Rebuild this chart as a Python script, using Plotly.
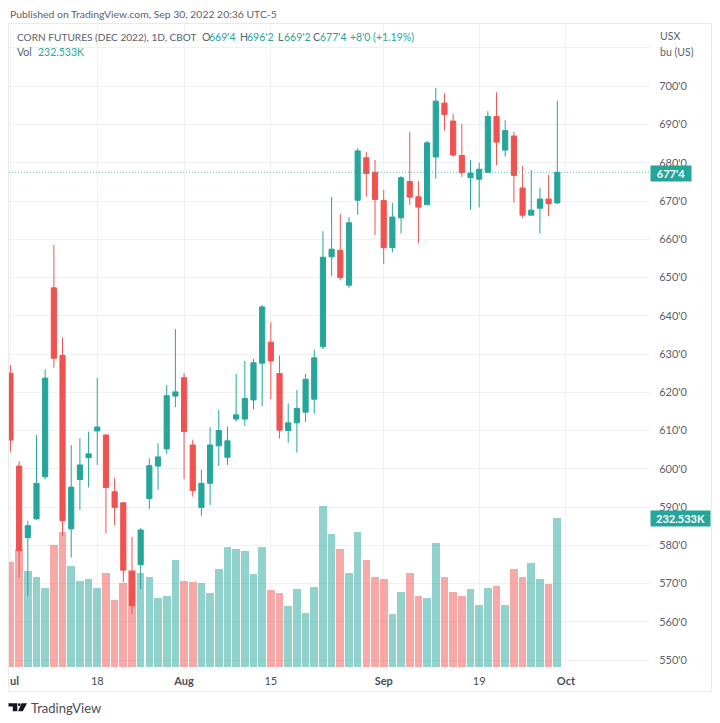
import pandas as pd
import plotly.graph_objects as go

W, H = 720, 723
FONT = "Lato"
GREEN = "#26a69a"
RED = "#ef5350"
TEXT = "#5d606b"

# open, high, low, close, volume (K) per session, Jul 1 to Sep 30 2022
rows = [
    (625.0, 627.1, 604.5, 607.5, 164.6), (600.7, 602.0, 571.5, 578.6, 184.8),
    (582.0, 586.4, 566.8, 585.1, 150.6), (586.9, 608.8, 586.7, 596.2, 141.3),
    (597.9, 626.0, 597.3, 623.7, 123.2), (647.3, 658.5, 626.4, 628.9, 191.0),
    (629.6, 634.3, 582.5, 586.4, 211.2), (584.3, 606.2, 576.8, 595.2, 156.9),
    (597.2, 608.0, 589.2, 601.0, 133.6), (602.9, 609.7, 595.1, 603.9, 138.2),
    (609.9, 623.8, 601.0, 610.9, 124.2), (608.8, 609.1, 583.1, 595.1, 146.0),
    (594.0, 597.6, 585.3, 589.9, 104.5), (591.1, 591.3, 570.4, 573.5, 132.0),
    (573.1, 582.2, 562.0, 564.2, 152.2), (574.9, 584.5, 568.6, 584.0, 146.0),
    (592.2, 602.7, 589.5, 600.8, 140.2), (600.7, 606.7, 594.5, 603.1, 107.2),
    (605.2, 621.9, 603.9, 619.1, 110.7), (619.0, 636.5, 616.1, 620.1, 166.2),
    (623.8, 625.0, 597.3, 609.7, 134.0), (606.2, 607.6, 592.7, 594.3, 132.8),
    (589.9, 599.7, 587.7, 596.2, 132.0), (596.2, 610.9, 590.5, 606.2, 116.0),
    (606.0, 615.4, 600.7, 610.0, 152.7), (603.0, 611.0, 601.0, 607.3, 187.9),
    (613.0, 624.8, 612.3, 614.1, 183.3), (613.0, 628.2, 611.2, 618.4, 181.7),
    (618.0, 628.7, 615.5, 627.7, 145.5), (627.6, 642.8, 616.4, 642.3, 187.9),
    (633.1, 638.3, 618.2, 628.2, 120.7), (624.9, 629.6, 607.9, 610.1, 116.0),
    (610.0, 617.1, 606.8, 612.0, 95.2), (612.0, 620.6, 604.2, 615.8, 122.2),
    (614.8, 624.8, 612.2, 623.4, 84.3), (618.2, 631.1, 614.4, 629.0, 125.8),
    (631.9, 662.1, 631.3, 655.3, 250.5), (655.4, 671.1, 650.4, 657.4, 207.6),
    (657.1, 666.6, 649.4, 650.0, 183.3), (648.0, 665.8, 647.3, 664.3, 146.4),
    (670.2, 683.8, 666.4, 683.1, 209.7), (681.3, 682.8, 671.1, 677.2, 167.3),
    (677.5, 680.7, 661.1, 670.4, 140.9), (670.1, 672.9, 653.5, 657.8, 138.2),
    (657.8, 669.5, 656.6, 665.8, 82.8), (665.6, 676.5, 661.5, 676.1, 116.9),
    (675.1, 688.1, 669.0, 671.0, 146.4), (671.1, 675.2, 659.0, 668.4, 111.4),
    (669.0, 685.7, 669.0, 685.2, 108.7), (681.5, 699.5, 675.8, 696.1, 193.0),
    (695.6, 698.2, 688.4, 692.6, 141.3), (690.9, 692.8, 681.6, 682.0, 116.9),
    (681.9, 690.1, 676.3, 677.4, 111.8), (676.1, 680.7, 667.7, 677.3, 122.2),
    (675.7, 680.0, 668.3, 678.3, 97.8), (677.5, 693.5, 677.5, 692.1, 123.2),
    (692.1, 698.4, 679.4, 685.4, 126.9), (683.3, 691.1, 681.6, 688.4, 97.8),
    (687.0, 688.1, 669.6, 676.7, 153.7), (673.4, 679.2, 665.6, 666.3, 140.2),
    (666.3, 678.1, 666.3, 667.6, 162.6), (668.1, 673.4, 661.5, 670.5, 137.8),
    (670.5, 676.9, 666.1, 669.3, 129.4), (669.5, 696.25, 669.25, 677.5, 232.533),
]
df = pd.DataFrame(rows, columns=["open", "high", "low", "close", "volume"])
df["n"] = range(len(df))


def px(x):
    return x / W


def py(y):
    return 1 - y / H


def label(x, y, text, color=TEXT, size=10.5, xanchor="left", **kw):
    return dict(xref="paper", yref="paper", x=px(x), y=py(y), text=text, showarrow=False,
                xanchor=xanchor, yanchor="middle", font=dict(family=FONT, size=size, color=color),
                borderpad=0, **kw)


vol_colors = [RED if c < o else GREEN for o, c in zip(df["open"], df["close"])]

fig = go.Figure()
fig.add_trace(go.Bar(x=df["n"], y=df["volume"], width=0.88, marker_color=vol_colors, marker_opacity=0.5,
                     marker_line_width=0, yaxis="y", hoverinfo="skip"))
fig.add_trace(go.Candlestick(
    x=df["n"], open=df["open"], high=df["high"], low=df["low"], close=df["close"], yaxis="y2",
    whiskerwidth=0,
    increasing=dict(line=dict(color=GREEN, width=1), fillcolor=GREEN),
    decreasing=dict(line=dict(color=RED, width=1), fillcolor=RED),
))

# pixel scale of the time axis: last session at 557.3, 8.68 px per session
x0 = (9 - 557.3) / 8.68 + 63
x1 = (650 - 557.3) / 8.68 + 63

ticks = [0, 10, 20, 30, 43, 54, 64]
ticktext = ["", "18", "<b>Aug</b>", "15", "<b>Sep</b>", "19", "<b>Oct</b>"]
prices = list(range(550, 711, 10))
pricetext = [f"{p}'0" for p in prices[:-1]] + [""]

fig.update_layout(
    width=W, height=H, margin=dict(l=0, r=0, t=0, b=0), autosize=False,
    paper_bgcolor="white", plot_bgcolor="white", showlegend=False, boxgap=0.15, bargap=0,
    font=dict(family=FONT, size=11, color=TEXT),
    xaxis=dict(domain=[px(9), px(650)], range=[x0, x1], tickvals=ticks, ticktext=ticktext,
               showgrid=True, gridcolor="#f1f1f3", zeroline=False, showline=False, ticks="outside",
               ticklen=4, tickcolor="white", rangeslider_visible=False, anchor="y",
               tickfont=dict(family=FONT, size=11, color="#4a4d57")),
    yaxis=dict(domain=[py(667), py(23.5)], range=[0, 999.4], visible=False, showgrid=False, fixedrange=True),
    yaxis2=dict(domain=[py(667), py(23.5)], range=[548.18, 716.4], overlaying="y", side="right", anchor="x",
                tickvals=prices, ticktext=pricetext, showgrid=True, gridcolor="#f1f1f3", zeroline=False,
                showline=False, ticks="outside", ticklen=6, tickcolor="white",
                tickfont=dict(family=FONT, size=11, color=TEXT)),
)

# frame round the chart
fig.add_shape(type="rect", xref="paper", yref="paper", x0=px(8.5), x1=px(711.5), y0=py(691.5), y1=py(23.5),
              line=dict(color="#e9eaed", width=1), layer="below")
# last price line
fig.add_shape(type="line", xref="paper", yref="y2", x0=px(9), x1=px(650), y0=677.5, y1=677.5,
              line=dict(color="rgba(38,166,154,0.75)", width=1, dash="1px,2px"), layer="above")

# TradingView logo
logo = [
    [(8.5, 703.3), (17.3, 703.3), (17.3, 711.3), (12.8, 711.3), (12.8, 706.6), (8.5, 706.6)],
    [(21.5, 703.3), (27, 703.3), (22.8, 711.3), (18, 711.3)],
]
for poly in logo:
    path = "M " + " L ".join(f"{px(a):.5f},{py(b):.5f}" for a, b in poly) + " Z"
    fig.add_shape(type="path", xref="paper", yref="paper", path=path, fillcolor="#131722", line_width=0)
fig.add_shape(type="circle", xref="paper", yref="paper", x0=px(18), x1=px(20.6), y0=py(706), y1=py(703.3),
              fillcolor="#131722", line_width=0)

annotations = [
    label(9, 13.5, "Published on TradingView.com, Sep 30, 2022 20:36 UTC-5", size=10.4),
    label(16, 37, "CORN FUTURES (DEC 2022), 1D, CBOT", size=10.1),
    label(201, 37, "O"), label(208, 37, "669'4", GREEN),
    label(239, 37, "H"), label(246, 37, "696'2", GREEN),
    label(277, 37, "L"), label(283, 37, "669'2", GREEN),
    label(312, 37, "C"), label(319, 37, "677'4", GREEN),
    label(349, 37, "+8'0 (+1.19%)", GREEN),
    label(16, 52, "Vol"), label(37, 52, "232.533K", GREEN),
    label(659, 36, "USX"), label(659, 52, "bu (US)"),
    label(9, 680, "<b>ul</b>", "#4a4d57", size=11),
    label(30, 708, "TradingView", "#4a4d57", size=13),
    label(650, 173, "<b>677'4</b>", "white", bgcolor=GREEN, width=40, height=15, align="center", size=11),
    label(650, 518, "<b>232.533K</b>", "white", bgcolor=GREEN, width=59, height=15, align="center", size=11),
]
fig.update_layout(annotations=annotations)

# page has the default body margin otherwise, which shifts everything by 8px
fig.write_html("out.html", config={"displayModeBar": False},
               post_script="document.body.style.margin = '0';")
